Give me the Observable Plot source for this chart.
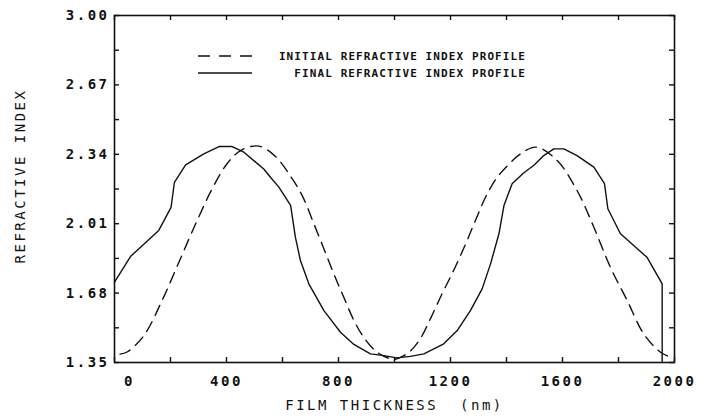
<!DOCTYPE html>
<html>
<head>
<meta charset="utf-8">
<script src="https://cdn.jsdelivr.net/npm/d3@7"></script>
<script src="https://cdn.jsdelivr.net/npm/@observablehq/plot@0.6"></script>
<style>
  html, body { margin: 0; padding: 0; background: #fff; }
</style>
</head>
<body>
<div id="chart"></div>
<script>
// Initial refractive index profile (dashed)
const initialX = [20, 45, 105, 170, 230, 295, 355, 402, 450, 515, 575, 629, 670, 712, 748, 783, 819, 855, 890, 932, 970, 1000, 1030, 1057, 1093, 1129, 1170, 1212, 1254, 1289, 1325, 1367, 1414, 1450, 1507, 1581, 1652, 1712, 1771, 1831, 1890, 1950, 1986];
const initialN = [1.39, 1.40, 1.478, 1.645, 1.827, 2.025, 2.192, 2.295, 2.358, 2.379, 2.33, 2.235, 2.145, 2.01, 1.89, 1.772, 1.66, 1.55, 1.47, 1.405, 1.375, 1.365, 1.38, 1.405, 1.465, 1.56, 1.677, 1.79, 1.914, 2.025, 2.136, 2.231, 2.30, 2.342, 2.374, 2.31, 2.168, 1.993, 1.803, 1.645, 1.486, 1.399, 1.375];

// Final refractive index profile (solid)
const finalX = [0, 57, 158, 202, 214, 254, 319, 373, 420, 462, 533, 557, 587, 629, 646, 664, 694, 748, 807, 855, 914, 950, 1009, 1057, 1105, 1176, 1224, 1271, 1313, 1343, 1373, 1391, 1420, 1460, 1500, 1533, 1569, 1605, 1652, 1712, 1750, 1762, 1807, 1902, 1956, 1956];
const finalN = [1.732, 1.854, 1.978, 2.088, 2.207, 2.29, 2.342, 2.377, 2.377, 2.35, 2.27, 2.231, 2.184, 2.097, 1.946, 1.835, 1.724, 1.597, 1.494, 1.436, 1.391, 1.385, 1.372, 1.379, 1.391, 1.439, 1.502, 1.597, 1.70, 1.819, 1.962, 2.097, 2.2, 2.25, 2.29, 2.334, 2.366, 2.366, 2.334, 2.279, 2.2, 2.081, 1.962, 1.85, 1.724, 1.35];

// Axis ticks and labels
const xTicks = [0, 200, 400, 600, 800, 1000, 1200, 1400, 1600, 1800, 2000];
const xLabels = [400, 800, 1200, 1600, 2000];
const yTicks = [1.35, 1.515, 1.68, 1.845, 2.01, 2.175, 2.34, 2.505, 2.67, 2.835, 3.00];
const yLabels = [1.35, 1.68, 2.01, 2.34, 2.67, 3.00];

const xTitle = "FILM THICKNESS\u00a0\u00a0(nm)";
const yTitle = "REFRACTIVE INDEX";
const legendLabels = ["INITIAL REFRACTIVE INDEX PROFILE", "FINAL REFRACTIVE INDEX PROFILE"];

const initial = initialX.map((x, i) => ({x, n: initialN[i]}));
const finalP = finalX.map((x, i) => ({x, n: finalN[i]}));

const font = "'DejaVu Sans Mono', monospace";

const chart = Plot.plot({
  width: 711,
  height: 418,
  marginLeft: 114,
  marginRight: 37,
  marginTop: 15,
  marginBottom: 56,
  x: {domain: [0, 2000]},
  y: {domain: [1.35, 3.0]},
  style: {fontFamily: font, fontSize: "14px", letterSpacing: "2.5px", color: "#111", background: "#fff"},
  marks: [
    Plot.frame({stroke: "#111", strokeWidth: 1.6}),
    Plot.tickX(xTicks, {x: d => d, insetTop: 342, stroke: "#111", strokeWidth: 1.4}),
    Plot.tickX(xTicks, {x: d => d, insetBottom: 342, stroke: "#111", strokeWidth: 1.4}),
    Plot.tickY(yTicks, {y: d => d, insetRight: 555, stroke: "#111", strokeWidth: 1.4}),
    Plot.tickY(yTicks, {y: d => d, insetLeft: 555, stroke: "#111", strokeWidth: 1.4}),
    Plot.axisX(xLabels, {tickSize: 0, tickPadding: 14, tickFormat: d => String(d), label: null, fontSize: 14, fontWeight: "bold"}),
    Plot.axisX([0], {tickSize: 0, tickPadding: 14, dx: 15, tickFormat: d => String(d), label: null, fontSize: 14, fontWeight: "bold"}),
    Plot.axisY(yLabels, {tickSize: 0, tickPadding: 5, tickFormat: d => d.toFixed(2), label: null, fontSize: 14, fontWeight: "bold"}),
    Plot.text([xTitle], {frameAnchor: "bottom", dy: 43, lineAnchor: "middle", fontSize: 14, fill: "#111"}),
    Plot.text([yTitle], {frameAnchor: "left", textAnchor: "middle", dx: -94, dy: -13, rotate: -90, lineAnchor: "middle", fontSize: 14, fill: "#111"}),
    Plot.line(initial, {x: "x", y: "n", stroke: "#111", strokeWidth: 1.4, strokeDasharray: "11,7", curve: "catmull-rom"}),
    Plot.line(finalP, {x: "x", y: "n", stroke: "#111", strokeWidth: 1.4})
  ]
});

// Legend (inside the plot area, upper left)
const svg = d3.select(chart);
const lg = svg.append("g").attr("font-family", font).attr("font-size", 11).attr("font-weight", "bold").attr("letter-spacing", "1.1px").attr("fill", "#111");
const rows = [{y: 56, dash: "12,9"}, {y: 73, dash: null}];
rows.forEach((r, i) => {
  const l = lg.append("line").attr("x1", 198).attr("x2", 252).attr("y1", r.y).attr("y2", r.y)
    .attr("stroke", "#111").attr("stroke-width", 1.4);
  if (r.dash) l.attr("stroke-dasharray", r.dash);
  lg.append("text").attr("x", 526).attr("y", r.y).attr("dy", "0.36em").attr("text-anchor", "end").text(legendLabels[i]);
});

document.getElementById("chart").appendChild(chart);
</script>
</body>
</html>
